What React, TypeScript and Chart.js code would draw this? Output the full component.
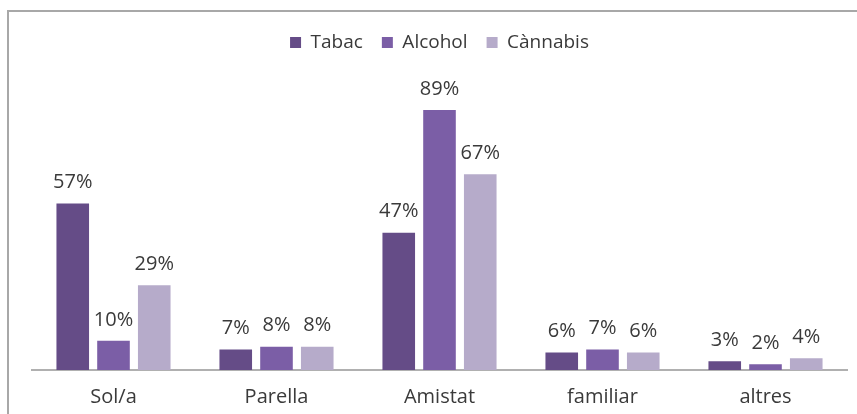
import React, { useEffect, useRef } from "react";
import { Chart, registerables } from "chart.js";

Chart.register(...registerables);

const categories = ["Sol/a", "Parella", "Amistat", "familiar", "altres"];
const seriesNames = ["Tabac", "Alcohol", "Cànnabis"];
const tabac = [57, 7, 47, 6, 3];
const alcohol = [10, 8, 89, 7, 2];
const cannabis = [29, 8, 67, 6, 4];
const colors = ["#654c87", "#7b5ea6", "#b6abca"];

const FONT = "'Open Sans', sans-serif";
const TEXT = "#3a3a3a";

const dataLabels = {
  id: "dataLabels",
  afterDatasetsDraw(chart: any) {
    const ctx = chart.ctx;
    ctx.save();
    ctx.font = `20px ${FONT}`;
    ctx.fillStyle = TEXT;
    ctx.textAlign = "center";
    ctx.textBaseline = "middle";
    chart.data.datasets.forEach((ds: any, i: number) => {
      const meta = chart.getDatasetMeta(i);
      meta.data.forEach((bar: any, j: number) => {
        ctx.fillText(`${ds.data[j]}%`, bar.x, bar.y - 21);
      });
    });
    ctx.restore();
  },
};

const legendSpace = {
  id: "legendSpace",
  beforeInit(chart: any) {
    const legend = chart.legend;
    if (!legend) return;
    const orig = legend.fit;
    legend.fit = function () {
      orig.call(this);
      this.height += 16;
    };
  },
};

export default function App() {
  const ref = useRef<HTMLCanvasElement>(null);
  useEffect(() => {
    document.body.style.margin = "0";
    document.body.style.overflow = "hidden";
    const chart = new Chart(ref.current!, {
      type: "bar",
      data: {
        labels: categories,
        datasets: [tabac, alcohol, cannabis].map((d, i) => ({
          label: seriesNames[i],
          data: d,
          backgroundColor: colors[i],
          categoryPercentage: 0.75,
          barPercentage: 0.8,
        })),
      },
      options: {
        animation: false,
        responsive: false,
        maintainAspectRatio: false,
        layout: { padding: { left: 32, right: 10, top: 14, bottom: -10 } },
        plugins: {
          legend: {
            position: "top",
            labels: {
              boxWidth: 11,
              boxHeight: 11,
              padding: 19,
              color: TEXT,
              font: { family: FONT, size: 19 },
            },
          },
          tooltip: { enabled: false },
        },
        scales: {
          x: {
            grid: { display: false, drawTicks: false },
            border: { color: "#b0b0b0", width: 2 },
            ticks: { color: TEXT, font: { family: FONT, size: 20 }, padding: 15 },
          },
          y: { display: false, min: 0, max: 100 },
        },
      },
      plugins: [dataLabels, legendSpace],
    });
    return () => chart.destroy();
  }, []);
  return (
    <div style={{ position: "relative", width: 857, height: 414, overflow: "hidden" }}>
      <div
        style={{
          position: "absolute",
          left: 7,
          top: 10,
          right: -10,
          bottom: -10,
          borderLeft: "2px solid #a8a8a8",
          borderTop: "2px solid #a8a8a8",
        }}
      />
      <canvas ref={ref} width={857} height={414} style={{ position: "absolute", left: 0, top: 0 }} />
    </div>
  );
}
